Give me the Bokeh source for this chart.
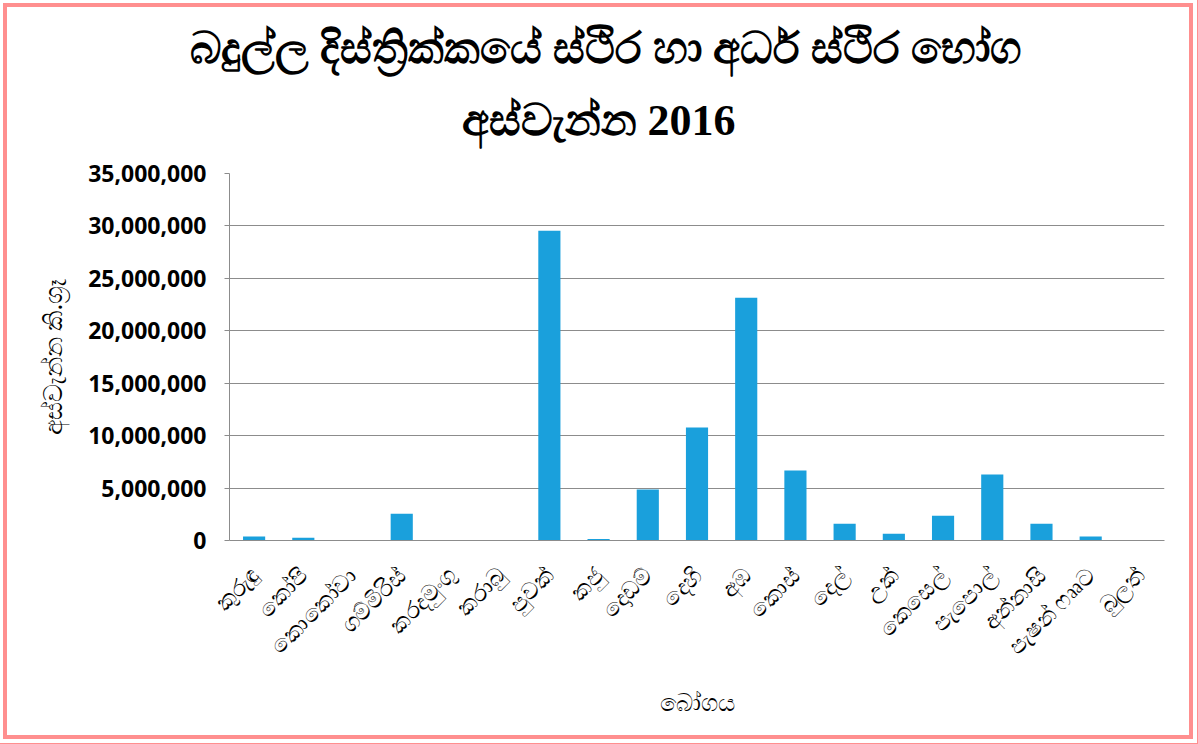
import math
from bokeh.plotting import figure
from bokeh.models import NumeralTickFormatter, Title, FixedTicker
from bokeh.embed import file_html
from bokeh.resources import INLINE

crops = ["කුරුඳු", "කෝපි", "කොකෝවා", "ගම්මිරිස්", "කරදමුංගු", "කරාබු", "පුවක්", "කජු",
         "දොඩම්", "දෙහි", "අඹ", "කොස්", "දෙල්", "උක්", "කෙසෙල්", "පැපොල්", "අන්නාසි",
         "පැෂන් ෆෲට", "බුලත්"]
harvest_kg = [380000, 260000, 50000, 2550000, 30000, 30000, 29550000, 150000,
              4860000, 10770000, 23160000, 6670000, 1600000, 650000, 2360000,
              6300000, 1600000, 380000, 50000]
y_ticks = [0, 5000000, 10000000, 15000000, 20000000, 25000000, 30000000, 35000000]

title_line1 = "බදුල්ල දිස්ත්‍රික්කයේ ස්ථිර හා අර්ධ ස්ථිර භෝග"
title_line2 = "අස්වැන්න 2016"
x_title = "බෝගය"
y_title = "අස්වැන්න කි.ග්‍රෑ"

p = figure(x_range=crops, y_range=(0, 35000000), width=1182, height=728,
           output_backend="svg", toolbar_location=None,
           min_border_left=222, min_border_right=25, min_border_top=166, min_border_bottom=195)
p.frame_width = 935
p.frame_height = 367

t2 = Title(text=title_line2, align="left", text_font="Liberation Serif", offset=232,
           text_font_size="44px", text_font_style="bold", text_color="black", standoff=58)
t1 = Title(text=title_line1, align="left", text_font="Liberation Serif", offset=-40,
           text_font_size="44px", text_font_style="bold", text_color="black", standoff=-16)
p.title = None
p.add_layout(t2, "above")
p.add_layout(t1, "above")

p.vbar(x=crops, top=harvest_kg, width=0.45, fill_color="#1AA0DC", line_color=None)

p.outline_line_color = None
p.xgrid.grid_line_color = None
p.ygrid.grid_line_color = "#8C8C8C"
p.ygrid.grid_line_width = 1

p.yaxis.ticker = FixedTicker(ticks=y_ticks)
p.yaxis.formatter = NumeralTickFormatter(format="0,0")
p.yaxis.major_label_text_font = "Noto Sans"
p.yaxis.major_label_text_font_size = "23px"
p.yaxis.major_label_text_font_style = "bold"
p.yaxis.major_label_text_color = "black"
p.yaxis.major_label_standoff = 18
p.yaxis.major_tick_line_color = "#8C8C8C"
p.yaxis.major_tick_out = 5
p.yaxis.major_tick_in = 0
p.yaxis.minor_tick_line_color = None
p.yaxis.axis_line_color = "#8C8C8C"
p.yaxis.axis_label = y_title
p.yaxis.axis_label_text_font = "Noto Sans"
p.yaxis.axis_label_text_font_size = "25px"
p.yaxis.axis_label_text_font_style = "normal"
p.yaxis.axis_label_text_color = "black"
p.yaxis.axis_label_standoff = 16

p.xaxis.major_label_orientation = math.pi / 4
p.xaxis.major_label_text_font = "Noto Sans"
p.xaxis.major_label_text_font_size = "23px"
p.xaxis.major_label_text_color = "black"
p.xaxis.major_label_standoff = 24
p.xaxis.major_tick_line_color = None
p.xaxis.minor_tick_line_color = None
p.xaxis.axis_line_color = "#8C8C8C"
p.xaxis.axis_label = x_title
p.xaxis.axis_label_text_font = "Noto Sans"
p.xaxis.axis_label_text_font_size = "24px"
p.xaxis.axis_label_text_font_style = "normal"
p.xaxis.axis_label_text_color = "black"
p.xaxis.axis_label_standoff = 10

p.styles = {"border": "12px double #FF8F8F", "box-sizing": "border-box", "margin-left": "-5px", "margin-top": "-5px"}

open("out.html", "w").write(file_html(p, INLINE))
